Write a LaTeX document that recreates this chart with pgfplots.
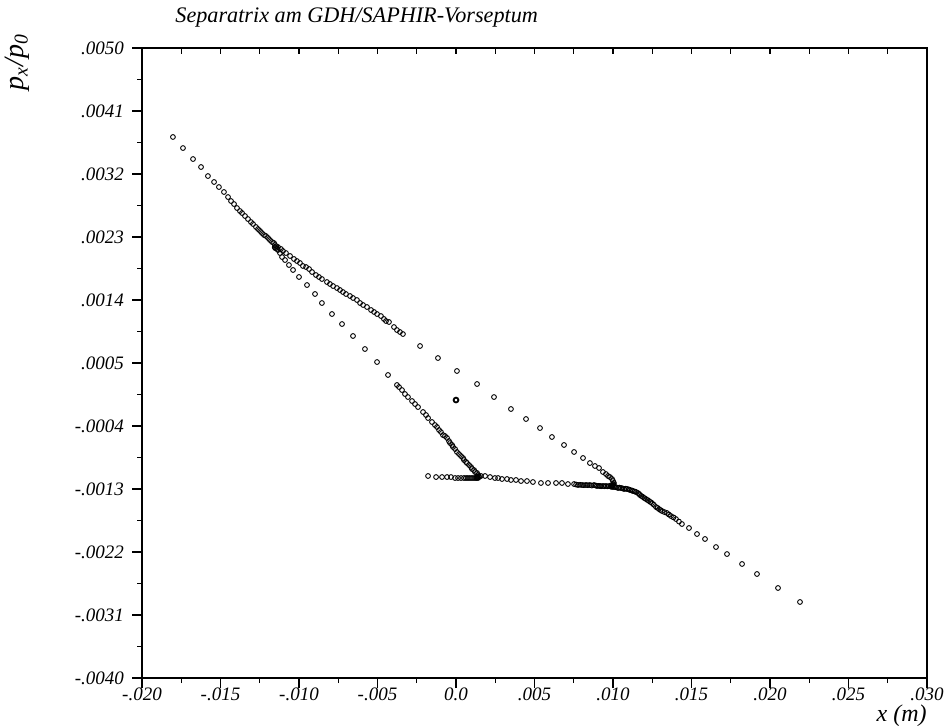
\documentclass[border=0pt]{standalone}
\usepackage{pgfplots}
\pgfplotsset{compat=1.18}
\usepackage{fontspec}
\setmainfont{Liberation Serif}

\pgfplotsset{
  commonframe/.style={
    scale only axis, width=392.5pt, height=315pt,
    at={(0pt,0pt)}, anchor=south west,
    xmin=-0.020, xmax=0.030, ymin=-0.0040, ymax=0.0050,
    scaled ticks=false,
    axis line style={line width=0.75pt},
    xtick={-0.020,-0.015,-0.010,-0.005,0,0.005,0.010,0.015,0.020,0.025,0.030},
    minor xtick={-0.0175,-0.0125,-0.0075,-0.0025,0.0025,0.0075,0.0125,0.0175,0.0225,0.0275},
  },
  pts/.style={only marks, mark=o, mark size=1.2pt, mark options={line width=0.45pt}, black},
}

\begin{document}
\begin{tikzpicture}
\path[use as bounding box] (-71pt,-23.5pt) rectangle (401.5pt,339pt);
\begin{axis}[
  commonframe,
  xticklabels={-.020,-.015,-.010,-.005,0.0,.005,.010,.015,.020,.025,.030},
  ytick={-0.0040,-0.0031,-0.0022,-0.0013,-0.0004,0.0005,0.0014,0.0023,0.0032,0.0041,0.0050},
  yticklabels={-.0040,-.0031,-.0022,-.0013,-.0004,.0005,.0014,.0023,.0032,.0041,.0050},
  minor ytick={-0.00355,-0.00265,-0.00175,-0.00085,0.00005,0.00095,0.00185,0.00275,0.00365,0.00455},
  xtick pos=left, ytick pos=left, tick align=outside,
  major tick length=5pt, minor tick length=2.5pt,
  every tick/.style={black, line width=0.6pt},
  tick label style={font=\fontsize{9.5}{11}\selectfont\itshape},
  xticklabel style={yshift=3.5pt},
  yticklabel style={xshift=-0.5pt},
]
\addplot[pts] table {
-18.03e-3 37.29e-4
-17.39e-3 35.71e-4
-16.75e-3 34.14e-4
-16.24e-3 33.00e-4
-15.80e-3 31.71e-4
-15.41e-3 30.86e-4
-15.10e-3 30.14e-4
-14.78e-3 29.43e-4
-14.52e-3 28.71e-4
-14.33e-3 28.14e-4
-14.14e-3 27.71e-4
-13.95e-3 27.14e-4
-13.76e-3 26.71e-4
-13.63e-3 26.43e-4
-13.44e-3 26.00e-4
-13.25e-3 25.57e-4
-13.06e-3 25.14e-4
-12.93e-3 24.86e-4
-12.74e-3 24.43e-4
-12.61e-3 24.14e-4
-12.48e-3 23.86e-4
-12.36e-3 23.57e-4
-12.23e-3 23.29e-4
-12.10e-3 23.14e-4
-11.97e-3 22.86e-4
-11.85e-3 22.57e-4
-11.72e-3 22.29e-4
-11.59e-3 22.14e-4
-11.53e-3 21.86e-4
-11.50e-3 21.40e-4
-11.45e-3 21.70e-4
-11.40e-3 21.30e-4
-11.55e-3 21.55e-4
};
\addplot[pts] table {
-11.34e-3 21.57e-4
-11.15e-3 21.29e-4
-11.02e-3 21.00e-4
-10.83e-3 20.71e-4
-10.57e-3 20.29e-4
-10.32e-3 19.86e-4
-10.13e-3 19.57e-4
-9.94e-3 19.29e-4
-9.75e-3 18.86e-4
-9.55e-3 18.71e-4
-9.36e-3 18.43e-4
-9.17e-3 18.00e-4
-8.92e-3 17.57e-4
-8.73e-3 17.29e-4
-8.54e-3 17.00e-4
-8.22e-3 16.57e-4
-8.03e-3 16.29e-4
-7.83e-3 16.00e-4
-7.58e-3 15.71e-4
-7.39e-3 15.43e-4
-7.20e-3 15.14e-4
-7.01e-3 14.86e-4
-6.75e-3 14.57e-4
-6.56e-3 14.29e-4
-6.31e-3 14.00e-4
-6.11e-3 13.57e-4
-5.92e-3 13.29e-4
-5.67e-3 13.00e-4
-5.41e-3 12.57e-4
-5.22e-3 12.29e-4
-5.03e-3 12.00e-4
-4.78e-3 11.71e-4
-4.59e-3 11.29e-4
-4.46e-3 11.00e-4
-4.27e-3 10.86e-4
-3.95e-3 10.14e-4
-3.76e-3 9.71e-4
-3.57e-3 9.43e-4
-3.38e-3 9.14e-4
-2.29e-3 7.43e-4
-1.15e-3 5.71e-4
0.06e-3 3.86e-4
1.34e-3 2.00e-4
2.42e-3 0.14e-4
3.50e-3 -1.57e-4
4.46e-3 -3.00e-4
5.35e-3 -4.29e-4
6.11e-3 -5.57e-4
6.88e-3 -6.71e-4
7.52e-3 -7.71e-4
8.09e-3 -8.57e-4
8.53e-3 -9.29e-4
8.85e-3 -9.71e-4
9.11e-3 -10.00e-4
9.36e-3 -10.57e-4
9.55e-3 -10.86e-4
9.68e-3 -11.14e-4
9.81e-3 -11.29e-4
9.94e-3 -11.57e-4
10.00e-3 -11.86e-4
10.06e-3 -12.14e-4
10.03e-3 -12.30e-4
10.00e-3 -12.43e-4
9.97e-3 -12.50e-4
9.94e-3 -12.57e-4
9.90e-3 -12.45e-4
};
\addplot[pts] table {
-11.34e-3 21.14e-4
-11.21e-3 20.71e-4
-11.08e-3 20.14e-4
-10.89e-3 19.71e-4
-10.64e-3 19.00e-4
-10.38e-3 18.29e-4
-10.00e-3 17.29e-4
-9.49e-3 16.14e-4
-8.98e-3 14.86e-4
-8.54e-3 13.57e-4
-7.90e-3 12.00e-4
-7.26e-3 10.57e-4
-6.56e-3 8.86e-4
-5.80e-3 7.00e-4
-5.03e-3 5.14e-4
-4.33e-3 3.29e-4
-3.76e-3 1.86e-4
-3.63e-3 1.57e-4
-3.44e-3 1.14e-4
-3.25e-3 0.57e-4
-3.06e-3 0.14e-4
-2.80e-3 -0.43e-4
-2.61e-3 -0.86e-4
-2.42e-3 -1.29e-4
-2.10e-3 -2.00e-4
-1.91e-3 -2.43e-4
-1.78e-3 -2.86e-4
-1.53e-3 -3.43e-4
-1.34e-3 -3.86e-4
-1.21e-3 -4.14e-4
-1.08e-3 -4.57e-4
-0.96e-3 -4.86e-4
-0.83e-3 -5.29e-4
-0.70e-3 -5.43e-4
-0.57e-3 -5.71e-4
-0.45e-3 -6.14e-4
-0.38e-3 -6.43e-4
-0.25e-3 -6.71e-4
-0.19e-3 -7.00e-4
-0.06e-3 -7.29e-4
0.06e-3 -7.71e-4
0.19e-3 -8.00e-4
0.32e-3 -8.29e-4
0.45e-3 -8.57e-4
0.51e-3 -8.86e-4
0.64e-3 -9.14e-4
0.70e-3 -9.29e-4
0.83e-3 -9.57e-4
0.96e-3 -9.86e-4
1.02e-3 -10.14e-4
1.15e-3 -10.29e-4
1.21e-3 -10.57e-4
1.34e-3 -10.71e-4
1.40e-3 -11.00e-4
1.45e-3 -11.15e-4
1.47e-3 -11.29e-4
1.35e-3 -11.25e-4
1.38e-3 -11.35e-4
1.30e-3 -11.40e-4
1.40e-3 -11.43e-4
};
\addplot[pts] table {
-1.78e-3 -11.14e-4
-1.27e-3 -11.29e-4
-0.89e-3 -11.29e-4
-0.57e-3 -11.29e-4
-0.32e-3 -11.29e-4
-0.06e-3 -11.43e-4
0.13e-3 -11.43e-4
0.32e-3 -11.43e-4
0.51e-3 -11.43e-4
0.64e-3 -11.43e-4
0.76e-3 -11.43e-4
0.89e-3 -11.43e-4
1.02e-3 -11.43e-4
1.15e-3 -11.43e-4
1.27e-3 -11.43e-4
};
\addplot[pts] table {
1.59e-3 -11.14e-4
1.85e-3 -11.14e-4
2.17e-3 -11.29e-4
2.48e-3 -11.43e-4
2.68e-3 -11.43e-4
2.93e-3 -11.57e-4
3.25e-3 -11.57e-4
3.50e-3 -11.71e-4
3.82e-3 -11.71e-4
4.14e-3 -11.86e-4
4.52e-3 -11.86e-4
4.90e-3 -12.00e-4
5.41e-3 -12.14e-4
5.86e-3 -12.14e-4
6.37e-3 -12.14e-4
6.75e-3 -12.14e-4
7.13e-3 -12.29e-4
7.52e-3 -12.29e-4
7.65e-3 -12.36e-4
7.77e-3 -12.43e-4
7.90e-3 -12.40e-4
8.03e-3 -12.43e-4
8.15e-3 -12.45e-4
8.28e-3 -12.43e-4
8.40e-3 -12.45e-4
8.53e-3 -12.43e-4
8.65e-3 -12.50e-4
8.79e-3 -12.43e-4
8.90e-3 -12.50e-4
8.98e-3 -12.57e-4
9.10e-3 -12.55e-4
9.17e-3 -12.57e-4
9.25e-3 -12.60e-4
9.36e-3 -12.57e-4
9.45e-3 -12.60e-4
9.55e-3 -12.57e-4
9.65e-3 -12.62e-4
9.75e-3 -12.57e-4
9.85e-3 -12.65e-4
9.94e-3 -12.71e-4
10.05e-3 -12.70e-4
10.13e-3 -12.71e-4
10.20e-3 -12.75e-4
10.32e-3 -12.86e-4
10.40e-3 -12.80e-4
10.51e-3 -12.86e-4
10.60e-3 -12.90e-4
10.70e-3 -13.00e-4
10.80e-3 -12.95e-4
10.89e-3 -13.00e-4
11.00e-3 -13.05e-4
11.08e-3 -13.14e-4
11.20e-3 -13.20e-4
11.27e-3 -13.29e-4
11.38e-3 -13.35e-4
11.47e-3 -13.43e-4
11.59e-3 -13.57e-4
11.66e-3 -13.70e-4
11.72e-3 -13.86e-4
11.81e-3 -14.00e-4
11.91e-3 -14.14e-4
12.00e-3 -14.30e-4
12.10e-3 -14.43e-4
12.20e-3 -14.57e-4
12.29e-3 -14.71e-4
12.38e-3 -14.85e-4
12.48e-3 -15.00e-4
12.60e-3 -15.25e-4
12.74e-3 -15.57e-4
12.84e-3 -15.70e-4
12.93e-3 -15.86e-4
13.02e-3 -16.00e-4
13.12e-3 -16.14e-4
13.28e-3 -16.30e-4
13.44e-3 -16.43e-4
13.56e-3 -16.65e-4
13.69e-3 -16.86e-4
13.85e-3 -17.05e-4
14.01e-3 -17.29e-4
14.20e-3 -17.65e-4
14.39e-3 -18.00e-4
14.84e-3 -18.57e-4
15.35e-3 -19.43e-4
15.86e-3 -20.14e-4
16.56e-3 -21.29e-4
17.26e-3 -22.29e-4
18.22e-3 -23.71e-4
19.17e-3 -25.14e-4
20.51e-3 -27.14e-4
21.91e-3 -29.14e-4
};
\addplot[pts, mark options={line width=0.9pt}] table {
0.00e-3 -0.29e-4
};
\end{axis}
\begin{axis}[
  commonframe,
  xticklabels={},
  ytick=\empty,
  xtick pos=right, tick align=inside,
  major tick length=3pt, minor tick length=3pt,
  every tick/.style={black, line width=0.6pt},
]
\end{axis}
\node[anchor=west, inner sep=0pt, font=\fontsize{11.1}{13}\selectfont\itshape] at (16.5pt,330pt) {Separatrix am GDH/SAPHIR-Vorseptum};
\node[rotate=90, font=\fontsize{14}{16}\selectfont\itshape] at (-62.5pt,308pt) {p\textsubscript{x}/p\textsubscript{0}};
\node[anchor=east, inner sep=0pt, font=\fontsize{12}{14}\selectfont\itshape] at (392.5pt,-19pt) {x (m)};
\end{tikzpicture}
\end{document}
